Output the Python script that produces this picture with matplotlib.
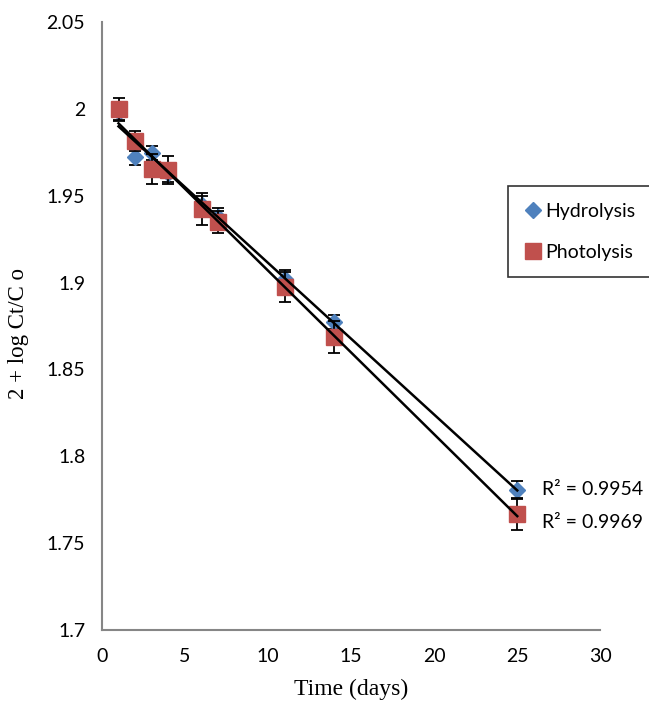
import matplotlib.pyplot as plt
import numpy as np
from matplotlib.lines import Line2D

# degradation kinetics, 2 + log(Ct/Co) against time
days = [1, 2, 3, 4, 6, 7, 11, 14, 25]
hydrolysis = [1.998, 1.9723, 1.9746, 1.963, 1.9446, 1.938, 1.902, 1.8773, 1.7806]
hydrolysis_err = [0.005, 0.0046, 0.004, 0.005, 0.005, 0.005, 0.005, 0.004, 0.005]
photolysis = [2.0, 1.9815, 1.9654, 1.965, 1.9423, 1.9349, 1.8974, 1.8687, 1.7668]
photolysis_err = [0.0063, 0.006, 0.0086, 0.008, 0.009, 0.0063, 0.0086, 0.009, 0.009]
r2_labels = ["R\u00b2 = 0.9954", "R\u00b2 = 0.9969"]

blue = "#4F81BD"
red = "#C0504D"
tick_font = "Lato"
title_font = "Liberation Serif"

fig = plt.figure(figsize=(6.49, 7.01), dpi=100)
ax = fig.add_axes([0.157, 0.1013, 0.768, 0.8673])

ax.errorbar(days, hydrolysis, yerr=hydrolysis_err, fmt="D", color=blue,
            markersize=8, ecolor="black", elinewidth=1.3, capsize=4.6,
            capthick=1.3, zorder=3)
ax.errorbar(days, photolysis, yerr=photolysis_err, fmt="s", color=red,
            markersize=12, ecolor="black", elinewidth=1.3, capsize=4.6,
            capthick=1.3, zorder=4)

# linear trend lines
xs = np.array([min(days), max(days)])
for ys in (hydrolysis, photolysis):
    k, b = np.polyfit(days, ys, 1)
    ax.plot(xs, k * xs + b, color="black", linewidth=1.8, zorder=5)

ax.text(26.5, hydrolysis[-1], r2_labels[0], fontsize=14, family=tick_font,
        va="center", ha="left")
ax.text(26.5, photolysis[-1] - 0.005, r2_labels[1], fontsize=14,
        family=tick_font, va="center", ha="left")

ax.set_xlim(0, 30)
ax.set_ylim(1.7, 2.05)
ax.set_xticks([0, 5, 10, 15, 20, 25, 30])
ax.set_yticks([1.7, 1.75, 1.8, 1.85, 1.9, 1.95, 2.0, 2.05])
ax.set_yticklabels(["1.7", "1.75", "1.8", "1.85", "1.9", "1.95", "2", "2.05"])
for lab in ax.get_xticklabels() + ax.get_yticklabels():
    lab.set_family(tick_font)
    lab.set_fontsize(14)
ax.tick_params(length=0, pad=13)
ax.tick_params(axis="y", pad=12)

for side in ("top", "right"):
    ax.spines[side].set_visible(False)
for side in ("left", "bottom"):
    ax.spines[side].set_color("#868686")
    ax.spines[side].set_linewidth(1.5)

ax.set_xlabel("Time (days)", family=title_font, fontsize=17, labelpad=10)
ax.set_ylabel("2 + log Ct/C o", family=title_font, fontsize=16.5)
ax.yaxis.set_label_coords(-0.147, 0.487)

handles = [
    Line2D([], [], linestyle="none", marker="D", markersize=8, color=blue),
    Line2D([], [], linestyle="none", marker="s", markersize=11, color=red),
]
leg = fig.legend(handles, ["Hydrolysis", "Photolysis"], loc="upper left",
                 bbox_to_anchor=(508 / 649, 1 - 186 / 701),
                 frameon=True, fancybox=False, edgecolor="black",
                 prop={"family": tick_font, "size": 14},
                 handletextpad=0.2, handlelength=0.85, labelspacing=1.25,
                 borderpad=0.85, borderaxespad=0)
leg.get_frame().set_linewidth(1.2)

fig.savefig("out.png", dpi=100)
